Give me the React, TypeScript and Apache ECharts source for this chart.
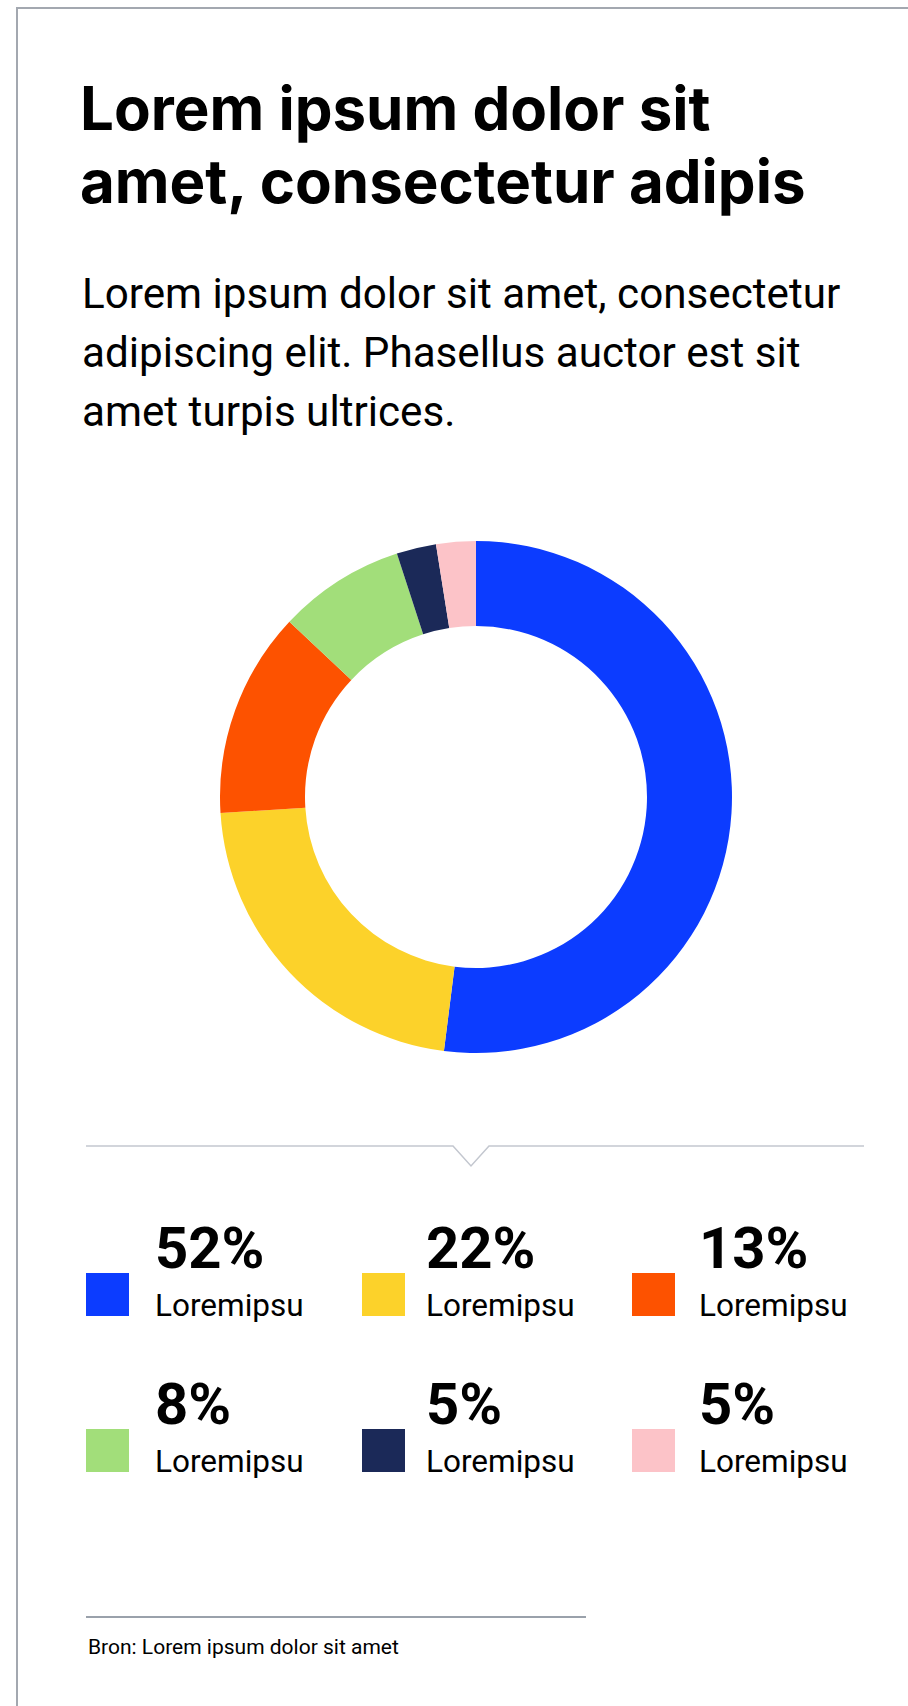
import React, { useEffect, useRef } from "react";
import * as echarts from "echarts";

// ---- data ----
const categories = ["Loremipsu", "Loremipsu", "Loremipsu", "Loremipsu", "Loremipsu", "Loremipsu"];
const sliceValues = [52, 22, 13, 8, 2.5, 2.5];
const shareLabels = ["52%", "22%", "13%", "8%", "5%", "5%"];
const sliceColors = ["#0c3cff", "#fcd22a", "#fd5200", "#a2de7a", "#1b2958", "#fcc3c8"];

const titleLines = ["Lorem ipsum dolor sit", "amet, consectetur adipis"];
const descLines = [
  "Lorem ipsum dolor sit amet, consectetur",
  "adipiscing elit. Phasellus auctor est sit",
  "amet turpis ultrices.",
];
const sourceText = "Bron: Lorem ipsum dolor sit amet";

const ROBOTO_C = 0.342; // central baseline offset (em)
const INTER_C = 0.363;

function txt(x: number, baseline: number, text: string, size: number, family: string, weight: string | number, fill: string, c: number) {
  return {
    type: "text",
    x,
    y: baseline - c * size,
    silent: true,
    style: {
      text,
      fontSize: size,
      fontFamily: family,
      fontWeight: weight,
      fill,
      align: "left",
      verticalAlign: "middle",
      textAlign: "left",
      textVerticalAlign: "middle",
    },
  };
}

export default function App() {
  const ref = useRef<HTMLDivElement>(null);

  useEffect(() => {
    if (!ref.current) return;
    const chart = echarts.init(ref.current, null, { renderer: "svg" });

    const elements: any[] = [];
    // card border
    elements.push({
      type: "rect",
      silent: true,
      shape: { x: 17, y: 8, width: 2000, height: 3000 },
      style: { fill: "none", stroke: "#a3a8b0", lineWidth: 2 },
    });
    // title
    titleLines.forEach((t, i) => {
      elements.push(txt(80, 130 + i * 73, t, 60, "Inter", 700, "#000", INTER_C));
    });
    // description
    descLines.forEach((t, i) => {
      elements.push(txt(82, 308 + i * 59, t, 42.2, "Roboto", 400, "#000", ROBOTO_C));
    });
    // separator with notch
    elements.push({
      type: "polyline",
      silent: true,
      shape: { points: [[86, 1146], [453, 1146], [471, 1166], [489, 1146], [864, 1146]] },
      style: { fill: "none", stroke: "#c3c7cf", lineWidth: 1.5 },
    });
    // legend
    const colX = [86, 362, 632];
    const textX = [155, 426, 699];
    const rowY = [1273, 1429];
    categories.forEach((name, i) => {
      const x = colX[i % 3];
      const y = rowY[Math.floor(i / 3)];
      elements.push({
        type: "rect",
        silent: true,
        shape: { x, y, width: 43, height: 43 },
        style: { fill: sliceColors[i] },
      });
      elements.push(txt(textX[i % 3], y - 5, shareLabels[i], 58, "Roboto", 700, "#000", ROBOTO_C));
      elements.push(txt(textX[i % 3], y + 43, name, 31.5, "Roboto", 400, "#000", ROBOTO_C));
    });
    // footer
    elements.push({
      type: "line",
      silent: true,
      shape: { x1: 86, y1: 1617, x2: 586, y2: 1617 },
      style: { stroke: "#9aa1ab", lineWidth: 2 },
    });
    elements.push(txt(88, 1654, sourceText, 21, "Roboto", 400, "#000", ROBOTO_C));

    chart.setOption({
      animation: false,
      backgroundColor: "#ffffff",
      tooltip: { show: false },
      series: [
        {
          type: "pie",
          center: [476, 797],
          radius: [171, 256],
          startAngle: 90,
          clockwise: true,
          silent: true,
          label: { show: false },
          labelLine: { show: false },
          itemStyle: { borderWidth: 0 },
          data: categories.map((name, i) => ({
            name: name + " " + (i + 1),
            value: sliceValues[i],
            itemStyle: { color: sliceColors[i] },
          })),
        },
      ],
      graphic: { elements },
    });

    return () => chart.dispose();
  }, []);

  return (
    <div
      ref={ref}
      style={{ position: "absolute", left: 0, top: 0, width: 908, height: 1706, background: "#fff" }}
    />
  );
}
